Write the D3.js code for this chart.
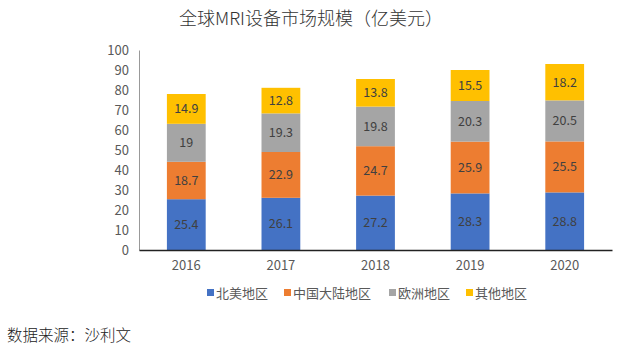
<!DOCTYPE html>
<html>
<head>
<meta charset="utf-8">
<script src="https://cdn.jsdelivr.net/npm/d3@7"></script>
<style>
  body { margin: 0; background: #fff; }
  svg text { font-family: "Noto Sans CJK SC", "Noto Sans", sans-serif; }
</style>
</head>
<body>
<div id="chart"></div>
<script>
// data
const years = ["2016", "2017", "2018", "2019", "2020"];
const regions = ["北美地区", "中国大陆地区", "欧洲地区", "其他地区"];
const northAmerica = [25.4, 26.1, 27.2, 28.3, 28.8];
const chinaMainland = [18.7, 22.9, 24.7, 25.9, 25.5];
const europe = [19, 19.3, 19.8, 20.3, 20.5];
const others = [14.9, 12.8, 13.8, 15.5, 18.2];
const yTicks = [0, 10, 20, 30, 40, 50, 60, 70, 80, 90, 100];

const COLORS = ["#4472C4", "#ED7D31", "#A5A5A5", "#FFC000"];
const W = 626, H = 350;
const MARGIN = {top: 50, right: 14, bottom: 100, left: 139};

const rows = years.map((y, i) => ({
  year: y,
  [regions[0]]: northAmerica[i],
  [regions[1]]: chinaMainland[i],
  [regions[2]]: europe[i],
  [regions[3]]: others[i]
}));
const series = d3.stack().keys(regions)(rows);

const svg = d3.select("#chart").append("svg")
  .attr("width", W).attr("height", H);

// title
svg.append("text")
  .attr("x", 311).attr("y", 25)
  .attr("text-anchor", "middle")
  .attr("font-size", 18).attr("fill", "#333")
  .attr("font-weight", 300)
  .text("全球MRI设备市场规模（亿美元）");

const x = d3.scaleBand().domain(years)
  .range([MARGIN.left, W - MARGIN.right])
  .paddingInner(0.59).paddingOuter(0.295);
const y = d3.scaleLinear().domain([0, 100])
  .range([H - MARGIN.bottom, MARGIN.top]);

// y axis
const yAxis = svg.append("g")
  .attr("transform", `translate(${MARGIN.left},0)`)
  .call(d3.axisLeft(y).tickValues(yTicks).tickSize(0).tickPadding(10));
yAxis.select(".domain").attr("stroke", "#999").attr("stroke-width", 1);
yAxis.selectAll("text").attr("font-size", 13).attr("fill", "#595959")
  .attr("font-family", "'Noto Sans', sans-serif");

// bars
const g = svg.append("g");
series.forEach((s, k) => {
  g.selectAll(null).data(s).enter().append("rect")
    .attr("x", d => x(d.data.year))
    .attr("width", x.bandwidth())
    .attr("y", d => y(d[1]))
    .attr("height", d => y(d[0]) - y(d[1]))
    .attr("fill", COLORS[k]);
  g.selectAll(null).data(s).enter().append("text")
    .attr("x", d => x(d.data.year) + x.bandwidth() / 2)
    .attr("y", d => (y(d[0]) + y(d[1])) / 2)
    .attr("dy", "0.35em")
    .attr("text-anchor", "middle")
    .attr("font-size", 12.5).attr("fill", "#404040")
    .attr("font-family", "'Noto Sans', sans-serif")
    .text(d => d.data[regions[k]]);
});

// x axis
const xAxis = svg.append("g")
  .attr("transform", `translate(0,${y(0)})`)
  .call(d3.axisBottom(x).tickSize(0).tickPadding(11).tickSizeOuter(0));
xAxis.select(".domain").attr("stroke", "#222").attr("stroke-width", 1.5);
xAxis.selectAll("text").attr("font-size", 13).attr("fill", "#595959")
  .attr("font-family", "'Noto Sans', sans-serif");

// legend
const legendX = [207, 284, 389, 466];
const legend = svg.append("g");
regions.forEach((r, k) => {
  legend.append("rect")
    .attr("x", legendX[k]).attr("y", 289)
    .attr("width", 7).attr("height", 7)
    .attr("fill", COLORS[k]);
  legend.append("text")
    .attr("x", legendX[k] + 9).attr("y", 293)
    .attr("dy", "0.35em")
    .attr("font-size", 13).attr("fill", "#595959")
    .text(r);
});

// source note
svg.append("text")
  .attr("x", 7).attr("y", 336)
  .attr("dy", "0.35em")
  .attr("font-size", 15.5).attr("fill", "#222")
  .attr("font-weight", 300)
  .text("数据来源：沙利文");
</script>
</body>
</html>
